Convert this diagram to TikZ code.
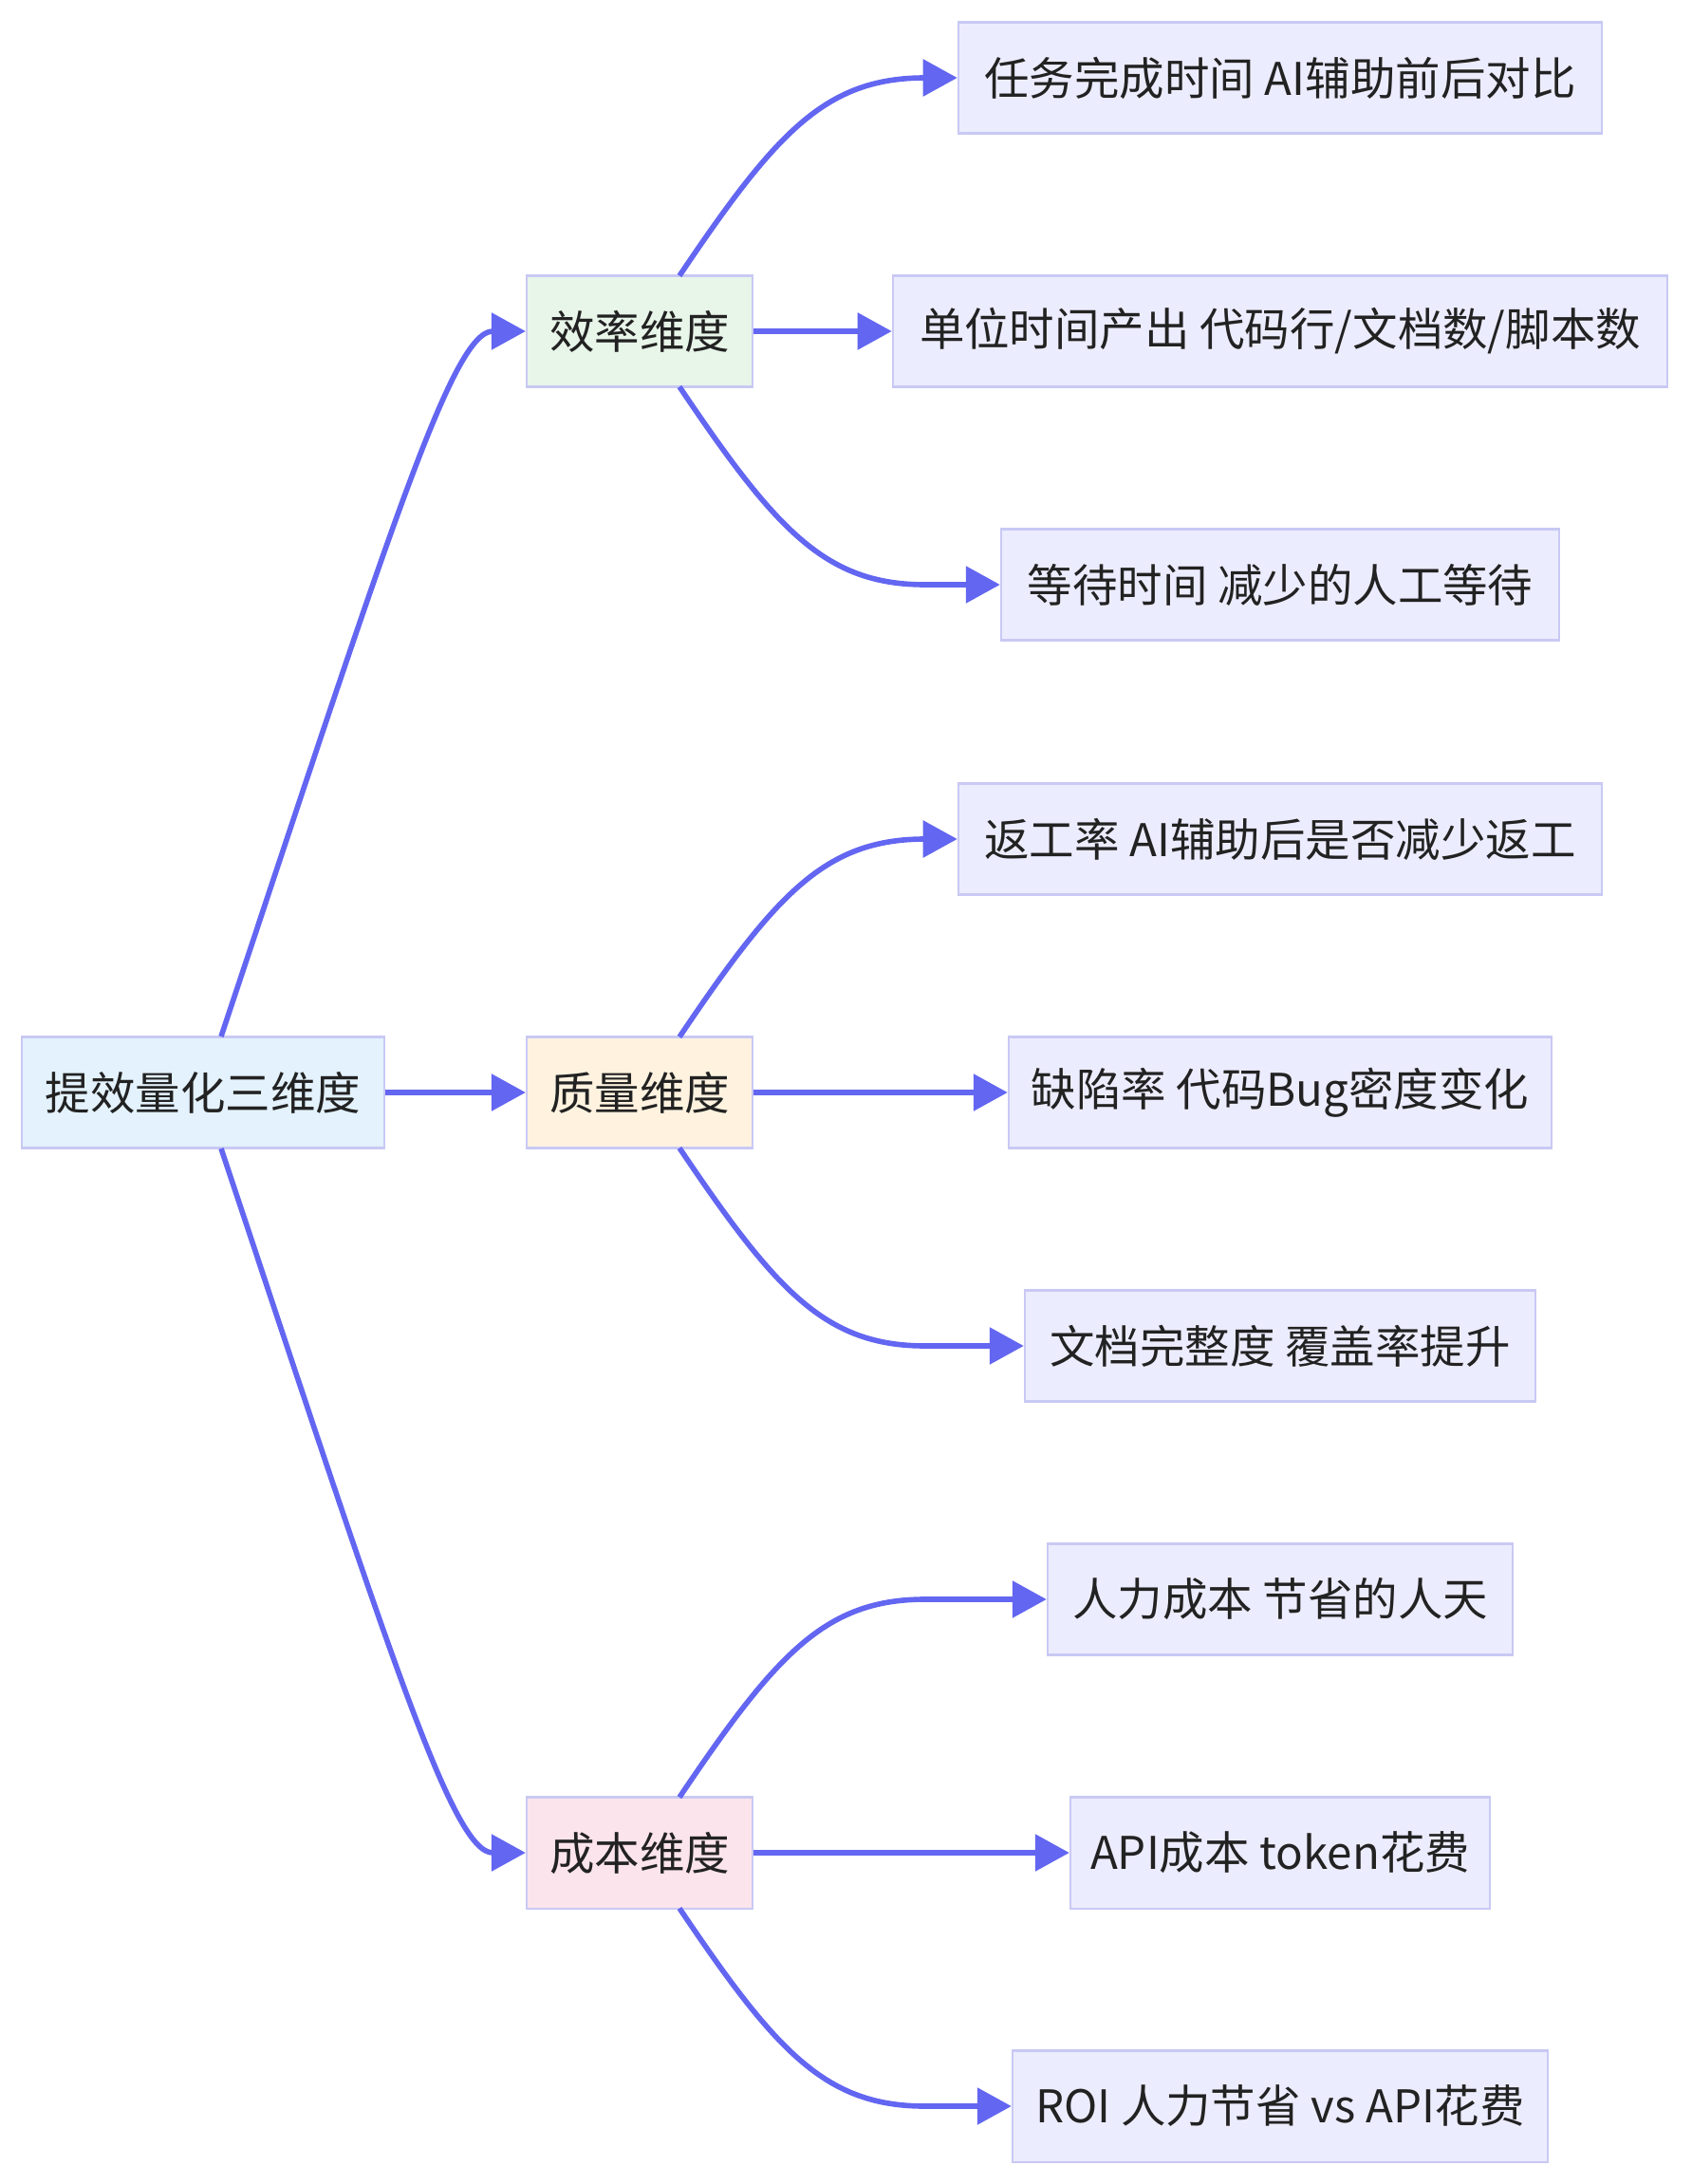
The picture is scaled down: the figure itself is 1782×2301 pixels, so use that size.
\documentclass[tikz,border=0pt]{standalone}
\usepackage{fontspec}
\setmainfont{Noto Sans CJK SC}
\usepackage{xcolor}
\usetikzlibrary{arrows.meta}

\definecolor{edgecol}{HTML}{6366F1}
\definecolor{boxline}{HTML}{C9C9F4}
\definecolor{rootfill}{HTML}{E3F2FD}
\definecolor{efffill}{HTML}{E8F5E9}
\definecolor{qualfill}{HTML}{FFF3E0}
\definecolor{costfill}{HTML}{FCE4EC}
\definecolor{leaffill}{HTML}{ECECFF}
\definecolor{txt}{HTML}{222222}

\tikzset{
	box/.style={draw=boxline, line width=0.6pt, minimum height=1.17cm, inner sep=0pt,
		text=txt, font=\fontsize{13.5pt}{16pt}\selectfont},
	leaf/.style={box, fill=leaffill},
	link/.style={draw=edgecol, line width=1.6pt, -{Triangle[length=0.36cm, width=0.38cm]}}
}

\begin{document}
\begin{tikzpicture}[x=0.01cm, y=-0.01cm]
	\useasboundingbox[fill=white] (0,0) rectangle (1782,2301);

	% root and the three dimensions
	\node[box, fill=rootfill, minimum width=3.815cm] (root) at (214,1151) {提效量化三维度};
	\node[box, fill=efffill, minimum width=2.38cm] (eff) at (674,349) {效率维度};
	\node[box, fill=qualfill, minimum width=2.38cm] (qual) at (674,1151) {质量维度};
	\node[box, fill=costfill, minimum width=2.38cm] (cost) at (674,1952) {成本维度};

	% measures
	\node[leaf, minimum width=6.78cm] (t1) at (1349,82) {任务完成时间 AI辅助前后对比};
	\node[leaf, minimum width=8.16cm] (t2) at (1349,349) {单位时间产出 代码行/文档数/脚本数};
	\node[leaf, minimum width=5.88cm] (t3) at (1349,616) {等待时间 减少的人工等待};
	\node[leaf, minimum width=6.78cm] (q1) at (1349,884) {返工率 AI辅助后是否减少返工};
	\node[leaf, minimum width=5.72cm] (q2) at (1349,1151) {缺陷率 代码Bug密度变化};
	\node[leaf, minimum width=5.38cm] (q3) at (1349,1418) {文档完整度 覆盖率提升};
	\node[leaf, minimum width=4.90cm] (c1) at (1349,1685) {人力成本 节省的人天};
	\node[leaf, minimum width=4.42cm] (c2) at (1349,1952) {API成本 token花费};
	\node[leaf, minimum width=5.64cm] (c3) at (1349,2219) {ROI 人力节省 vs API花费};

	% root to dimensions
	\draw[link] (233,1092) .. controls (411,558) and (477,349) .. (eff.west);
	\draw[link] (root.east) -- (qual.west);
	\draw[link] (233,1210) .. controls (411,1744) and (477,1952) .. (cost.west);

	% dimensions to measures
	\foreach \m/\y/\a/\b/\c in {eff/349/t1/t2/t3, qual/1151/q1/q2/q3, cost/1952/c1/c2/c3} {
		\draw[link] (716,\y-58.5) .. controls (818,\y-210) and (870,\y-267) .. (975,\y-267) -- (\a.west);
		\draw[link] (\m.east) -- (\b.west);
		\draw[link] (716,\y+58.5) .. controls (818,\y+210) and (870,\y+267) .. (975,\y+267) -- (\c.west);
	}
\end{tikzpicture}
\end{document}
